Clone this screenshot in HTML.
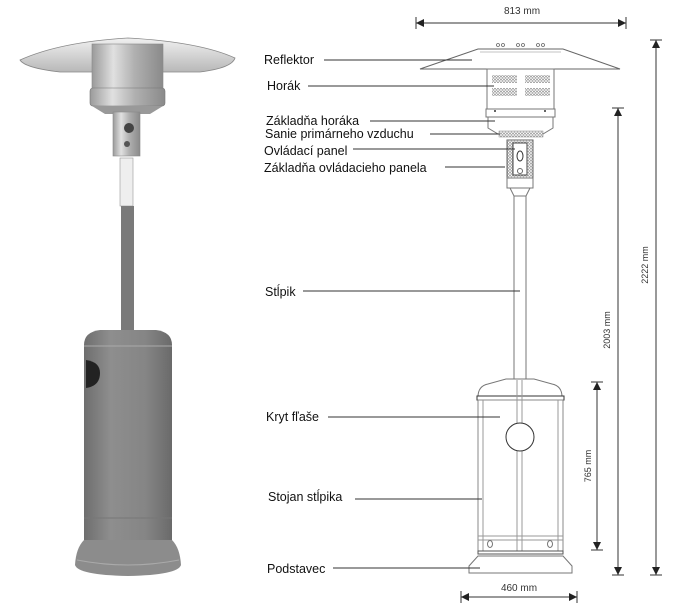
<!DOCTYPE html>
<html><head><meta charset="utf-8"><style>
html,body{margin:0;padding:0;background:#fff;}
svg{display:block;}
text{font-family:"Liberation Sans",sans-serif;}
</style></head><body>
<svg width="687" height="603" viewBox="0 0 687 603" xmlns="http://www.w3.org/2000/svg">
<defs>
<linearGradient id="cyl" x1="0" x2="1">
<stop offset="0" stop-color="#6e6e6e"/><stop offset="0.3" stop-color="#8e8e8e"/><stop offset="0.7" stop-color="#858585"/><stop offset="1" stop-color="#6a6a6a"/>
</linearGradient>
<linearGradient id="met" x1="0" x2="1">
<stop offset="0" stop-color="#9a9a9a"/><stop offset="0.3" stop-color="#e0e0e0"/><stop offset="0.6" stop-color="#b0b0b0"/><stop offset="1" stop-color="#8a8a8a"/>
</linearGradient>
<linearGradient id="refl" x1="0" y1="0" x2="0" y2="1">
<stop offset="0" stop-color="#f0f0f0"/><stop offset="1" stop-color="#b8b8b8"/>
</linearGradient>
<pattern id="mesh" width="3" height="3" patternUnits="userSpaceOnUse"><rect width="3" height="3" fill="#fff"/><circle cx="1.5" cy="1.5" r="1" fill="none" stroke="#777" stroke-width="0.6"/></pattern>
</defs>

<!-- LEFT PHOTO -->
<path d="M20,60 Q60,42 128,38 Q200,42 235,58 Q232,68 200,72 L60,72 Q25,68 20,60 Z" fill="url(#refl)" stroke="#888" stroke-width="0.8"/>
<rect x="92" y="44" width="71" height="48" fill="url(#met)" stroke="#888" stroke-width="0.6"/>
<rect x="90" y="88" width="75" height="18" rx="3" fill="url(#met)" stroke="#777" stroke-width="0.6"/>
<path d="M92,106 L163,106 L150,114 L105,114 Z" fill="#999"/>
<rect x="113" y="112" width="27" height="44" fill="url(#met)" stroke="#888" stroke-width="0.6"/>
<circle cx="129" cy="128" r="5" fill="#444"/>
<circle cx="127" cy="144" r="3" fill="#555"/>
<rect x="120" y="158" width="13" height="48" fill="#eee" stroke="#999" stroke-width="0.6"/>
<rect x="121" y="206" width="13" height="126" fill="#7a7a7a"/>
<path d="M84,345 Q84,332 100,330 L156,330 Q172,332 172,345 L172,545 L84,545 Z" fill="url(#cyl)"/>
<line x1="84" y1="346" x2="172" y2="346" stroke="#aaa" stroke-width="1"/>
<line x1="84" y1="518" x2="172" y2="518" stroke="#777" stroke-width="1"/>
<path d="M86,360 Q100,362 100,373 Q100,386 86,388 Z" fill="#222"/>
<circle cx="123" cy="553" r="4.5" fill="#222"/>
<path d="M84,540 L172,540 Q180,548 181,565 Q178,575 128,576 Q78,575 75,565 Q76,548 84,540 Z" fill="#8c8c8c"/>
<path d="M77,560 Q128,570 179,560" fill="none" stroke="#aaa" stroke-width="1"/>

<!-- RIGHT DRAWING -->
<g stroke="#333" stroke-width="1">
<line x1="416" y1="23" x2="626" y2="23"/>
<line x1="416" y1="17" x2="416" y2="29"/><line x1="626" y1="17" x2="626" y2="29"/>
</g>
<path d="M416,23 l8,-4 v8 z M626,23 l-8,-4 v8 z" fill="#222"/>
<text x="522" y="14" font-size="10" text-anchor="middle" fill="#333">813 mm</text>

<!-- reflector -->
<path d="M478,49 L563,49 L620,69 L420,69 Z" fill="#fff" stroke="#666" stroke-width="1"/>
<line x1="480" y1="52" x2="561" y2="52" stroke="#888" stroke-width="0.6"/>
<g fill="none" stroke="#666" stroke-width="0.8">
<circle cx="498" cy="45" r="1.5"/><circle cx="503" cy="45" r="1.5"/>
<circle cx="518" cy="45" r="1.5"/><circle cx="523" cy="45" r="1.5"/>
<circle cx="538" cy="45" r="1.5"/><circle cx="543" cy="45" r="1.5"/>
</g>
<!-- burner -->
<rect x="487" y="69" width="67" height="40" fill="#fff" stroke="#777"/>
<rect x="492" y="75" width="25" height="8" fill="url(#mesh)"/>
<rect x="525" y="75" width="25" height="8" fill="url(#mesh)"/>
<rect x="492" y="88" width="25" height="8" fill="url(#mesh)"/>
<rect x="525" y="88" width="25" height="8" fill="url(#mesh)"/>
<rect x="486" y="109" width="69" height="8" fill="#fff" stroke="#777"/>
<circle cx="495" cy="111" r="1" fill="#333"/><circle cx="545" cy="111" r="1" fill="#333"/>
<path d="M488,117 L553,117 L553,128 L543,134 L498,134 L488,128 Z" fill="#fff" stroke="#777"/>
<rect x="499" y="131" width="44" height="6" fill="url(#mesh)" stroke="#888" stroke-width="0.5"/>
<!-- control panel -->
<rect x="507" y="140" width="26" height="38" fill="url(#mesh)" stroke="#666"/>
<rect x="513" y="143" width="14" height="32" fill="#fff" stroke="#444"/>
<ellipse cx="520" cy="156" rx="3" ry="5" fill="none" stroke="#333"/>
<circle cx="520" cy="171" r="2.5" fill="none" stroke="#666"/>
<rect x="507" y="178" width="26" height="10" fill="#fff" stroke="#777"/>
<path d="M510,188 L530,188 L526,196 L514,196 Z" fill="#fff" stroke="#777"/>
<!-- pole -->
<rect x="514" y="196" width="12" height="186" fill="#fff" stroke="#777"/>
<!-- base housing -->
<path d="M478,397 Q478,386 488,384 L506,379 L534,379 L552,384 Q562,386 562,397 Z" fill="#fff" stroke="#777"/>
<rect x="477" y="396" width="87" height="4" fill="#fff" stroke="#333"/>
<rect x="478" y="400" width="85" height="153" fill="#fff" stroke="#888"/>
<line x1="483" y1="400" x2="483" y2="553" stroke="#999"/>
<line x1="558" y1="400" x2="558" y2="553" stroke="#999"/>
<line x1="517" y1="380" x2="517" y2="553" stroke="#999"/>
<line x1="522" y1="380" x2="522" y2="553" stroke="#999"/>
<circle cx="520" cy="437" r="14" fill="#fff" stroke="#333"/>
<line x1="520" y1="423" x2="520" y2="451" stroke="#fff" stroke-width="0"/>
<line x1="478" y1="536" x2="563" y2="536" stroke="#999"/>
<line x1="478" y1="540" x2="563" y2="540" stroke="#999"/>
<ellipse cx="490" cy="544" rx="2.5" ry="3.5" fill="none" stroke="#777"/>
<ellipse cx="550" cy="544" rx="2.5" ry="3.5" fill="none" stroke="#777"/>
<rect x="478" y="551" width="85" height="3" fill="#fff" stroke="#555"/>
<path d="M478,556 L563,556 L572,566 L572,573 L469,573 L469,566 Z" fill="#fff" stroke="#777"/>

<!-- dims right -->
<g stroke="#333" stroke-width="1">
<line x1="618" y1="108" x2="618" y2="575"/><line x1="612" y1="108" x2="624" y2="108"/><line x1="612" y1="575" x2="624" y2="575"/>
<line x1="656" y1="40" x2="656" y2="575"/><line x1="650" y1="40" x2="662" y2="40"/><line x1="650" y1="575" x2="662" y2="575"/>
<line x1="597" y1="382" x2="597" y2="550"/><line x1="591" y1="382" x2="603" y2="382"/><line x1="591" y1="550" x2="603" y2="550"/>
<line x1="461" y1="597" x2="577" y2="597"/><line x1="461" y1="591" x2="461" y2="603"/><line x1="577" y1="591" x2="577" y2="603"/>
</g>
<path d="M618,108 l-4,8 h8 z M618,575 l-4,-8 h8 z M656,40 l-4,8 h8 z M656,575 l-4,-8 h8 z M597,382 l-4,8 h8 z M597,550 l-4,-8 h8 z M461,597 l8,-4 v8 z M577,597 l-8,-4 v8 z" fill="#222"/>
<text transform="translate(610,330) rotate(-90)" font-size="9" text-anchor="middle" fill="#333">2003 mm</text>
<text transform="translate(648,265) rotate(-90)" font-size="9" text-anchor="middle" fill="#333">2222 mm</text>
<text transform="translate(591,466) rotate(-90)" font-size="9" text-anchor="middle" fill="#333">765 mm</text>
<text x="519" y="591" font-size="10" text-anchor="middle" fill="#333">460 mm</text>

<!-- labels -->
<g font-size="12.5" fill="#111">
<text x="264" y="64">Reflektor</text>
<text x="267" y="90">Horák</text>
<text x="266" y="125">Základňa horáka</text>
<text x="265" y="138">Sanie primárneho vzduchu</text>
<text x="264" y="155">Ovládací panel</text>
<text x="264" y="172">Základňa ovládacieho panela</text>
<text x="265" y="296">Stĺpik</text>
<text x="266" y="421">Kryt fľaše</text>
<text x="268" y="501">Stojan stĺpika</text>
<text x="267" y="573">Podstavec</text>
</g>
<g stroke="#333" stroke-width="1">
<line x1="324" y1="60" x2="472" y2="60"/>
<line x1="308" y1="86" x2="494" y2="86"/>
<line x1="370" y1="121" x2="495" y2="121"/>
<line x1="430" y1="134" x2="500" y2="134"/>
<line x1="353" y1="149" x2="515" y2="149"/>
<line x1="445" y1="167" x2="505" y2="167"/>
<line x1="303" y1="291" x2="520" y2="291"/>
<line x1="328" y1="417" x2="500" y2="417"/>
<line x1="355" y1="499" x2="482" y2="499"/>
<line x1="333" y1="568" x2="480" y2="568"/>
</g>
</svg>
</body></html>
